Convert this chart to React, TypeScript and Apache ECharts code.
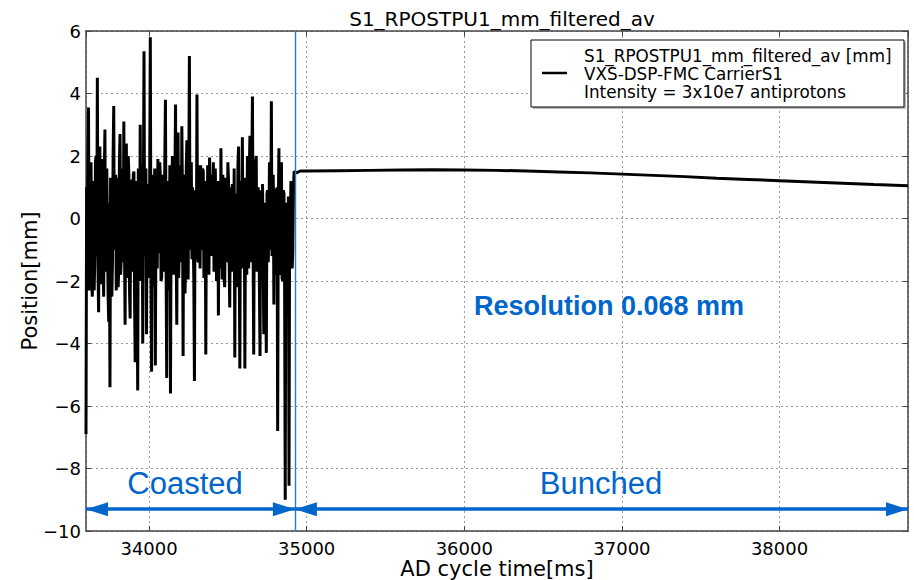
import React, { useEffect, useRef } from 'react';
import * as echarts from 'echarts';

const TITLE = 'S1_RPOSTPU1_mm_filtered_av';
const X_NAME = 'AD cycle time[ms]';
const Y_NAME = 'Position[mm]';
const X_MIN = 33600;
const X_MAX = 38815;
const Y_MIN = -10;
const Y_MAX = 6;
const Y_STEP = 2;

// Coasted beam: samples every COAST_STEP ms starting at COAST_START
const COAST_START = 33600;
const COAST_STEP = 4;
const coastValues = [
  -6.9, 1.0, -1.0, 1.9, 3.55, -2.3, -0.5, 1.3, 1.8, -1.9,
  -2.5, 0.8, 1.2, -2.3, -1.2, 1.8, 2.0, -1.2, 4.5, -1.6,
  -3.0, 1.4, 2.3, -2.1, -0.8, 1.7, 1.9, -1.3, -2.5, 1.3,
  2.85, -1.7, -1.0, 1.6, 1.6, -2.4, -3.3, 0.5, -5.4, 1.3,
  0.6, -2.5, -1.4, 2.0, 3.6, -1.0, 0.2, 1.4, -2.3, 1.2,
  1.3, -2.2, -1.6, 1.9, 2.7, -1.8, -1.2, 1.6, 0.9, -1.4,
  3.1, -0.7, -3.4, 1.3, 2.4, -1.9, -1.0, 2.0, 1.4, -2.3,
  -3.2, 0.9, 1.25, -1.7, -0.8, 1.4, 1.5, -2.5, -4.6, 1.2,
  0.7, -1.8, -5.5, 1.6, 0.3, -1.3, 3.0, -2.0, -1.3, 1.7,
  -4.0, 0.7, 5.35, -1.2, -1.2, 1.6, -3.7, 1.0, 1.1, -1.9,
  -0.6, 1.3, 5.8, -1.7, -4.9, 0.8, 1.4, -2.2, -0.4, 1.6,
  -4.7, 0.4, 0.8, -1.6, 1.9, -1.0, -1.1, 1.8, 1.3, -2.0,
  -1.9, 1.4, 0.5, -1.7, -0.9, 1.9, 3.8, -1.3, -5.1, 1.2,
  0.9, -2.3, -1.2, 1.7, -5.6, 0.3, -1.0, 2.0, 1.2, -1.8,
  -0.7, 1.2, 3.65, -0.8, -3.4, 1.3, 2.75, -1.9, -0.9, 1.7,
  0.8, -1.4, 2.95, 0.7, -4.4, 1.4, 0.4, -2.4, -1.5, 1.6,
  2.5, -0.5, -1.95, 1.3, 5.2, -1.0, 0.1, 1.8, -1.3, 1.0,
  1.0, -2.0, -5.2, 0.9, 0.6, -1.3, 3.97, -1.2, -1.4, 1.7,
  0.5, -1.6, 1.7, -0.9, -1.0, 1.6, 1.5, -1.9, -0.3, 1.2,
  -4.35, 0.5, -0.6, 1.7, 0.9, -1.8, 1.95, -0.8, -0.8, 1.4,
  -1.2, 1.0, 1.8, -1.7, -0.5, 1.6, 0.7, -2.0, -1.3, 1.2,
  -3.1, 0.7, 0.6, -1.6, 2.25, -0.9, -1.95, 1.4, 0.9, -1.9,
  -2.2, 1.3, 1.2, -1.4, -0.7, 1.8, 1.25, -1.3, -2.85, 1.0,
  0.3, -1.7, 1.1, -1.2, -1.4, 1.6, -4.45, 0.8, 0.8, -2.2,
  -1.0, 1.7, 2.3, -1.0, -4.8, 1.2, 0.4, -1.6, 2.6, -0.7,
  -1.1, 1.3, -4.8, 0.4, 0.6, -1.8, 2.0, -1.2, -1.6, 1.6,
  2.65, -1.4, -0.8, 1.7, 3.9, -0.8, -4.35, 0.7, -0.2, 1.8,
  2.0, -1.7, -1.2, 1.0, 0.5, -2.1, -4.4, 0.9, 0.0, -1.9,
  1.1, -1.3, -3.7, 0.5, 0.4, -2.3, -4.3, 0.8, 0.9, -1.4,
  -0.5, 1.8, 1.2, -1.0, 3.75, -1.2, -1.0, 1.4, -2.75, 0.8,
  0.95, -1.8, -1.0, 1.0, -6.8, 0.4, 2.25, -1.6, -1.8, 1.3,
  1.8, -1.9, -2.0, 0.9, 0.8, -2.1, -9.0, 0.5, 0.2, -1.3,
  -1.5, 0.7, -8.55, 0.1, -0.5, 1.2, 0.45, -1.6, -1.0, 0.8,
  1.5,
];

// Bunched beam
const bunchedTimes = [
  34935, 34960, 35000, 35200, 35400, 35600, 35800, 36000, 36200, 36400,
  36600, 36800, 37000, 37200, 37400, 37600, 37800, 38000, 38200, 38400,
  38600, 38815,
];
const bunchedValues = [
  1.46, 1.52, 1.52, 1.53, 1.54, 1.55, 1.56, 1.55, 1.54, 1.52,
  1.49, 1.46, 1.42, 1.38, 1.34, 1.29, 1.25, 1.21, 1.17, 1.13,
  1.09, 1.05,
];

const SPLIT_TIME = 34925;
const ARROW_LEVEL = -9.3;
const legendLines = [
  'S1_RPOSTPU1_mm_filtered_av [mm]',
  'VXS-DSP-FMC CarrierS1',
  'Intensity = 3x10e7 antiprotons',
];
const COASTED_LABEL = 'Coasted';
const BUNCHED_LABEL = 'Bunched';
const RESOLUTION_LABEL = 'Resolution 0.068 mm';

const MPL_FONT = 'DejaVu Sans';
const ANNOT_FONT = '"Liberation Sans", Arial, sans-serif';
const BLUE = '#0066cc';
const AXIS_COLOR = '#444';

export default function App() {
  const ref = useRef<HTMLDivElement>(null);

  useEffect(() => {
    if (!ref.current) return;
    const chart = echarts.init(ref.current, undefined, { renderer: 'svg' });

    const data: [number, number][] = [];
    coastValues.forEach((v, i) => data.push([COAST_START + i * COAST_STEP, v]));
    bunchedTimes.forEach((t, i) => data.push([t, bunchedValues[i]]));

    const axisLine = { show: true, onZero: false, lineStyle: { color: AXIS_COLOR, width: 1.5 } };
    const axisTick = { show: true, inside: true, length: 5, lineStyle: { color: AXIS_COLOR, width: 1 } };
    const splitLine = { show: true, lineStyle: { color: '#999', type: [2, 3], width: 1 } };

    const xCommon = { type: 'value', min: X_MIN, max: X_MAX, splitNumber: 5 };
    const yCommon = { type: 'value', min: Y_MIN, max: Y_MAX, interval: Y_STEP };

    chart.setOption({
      animation: false,
      backgroundColor: '#fff',
      title: {
        text: TITLE,
        left: 497,
        top: 4,
        textAlign: 'center',
        textStyle: { fontFamily: MPL_FONT, fontSize: 20, fontWeight: 'normal', color: '#000' },
      },
      grid: {
        left: 86,
        right: 6,
        top: 31,
        bottom: 49,
        containLabel: false,
        outerBoundsMode: 'none',
      },
      xAxis: [
        {
          ...xCommon,
          position: 'bottom',
          name: X_NAME,
          nameLocation: 'middle',
          nameGap: 27,
          nameMoveOverlap: false,
          nameTextStyle: { fontFamily: MPL_FONT, fontSize: 21, color: '#000' },
          axisLine,
          axisTick,
          splitLine,
          axisLabel: {
            fontFamily: MPL_FONT,
            fontSize: 18,
            color: '#000',
            margin: 8,
            showMinLabel: false,
            showMaxLabel: false,
            formatter: (v: number) => (v % 1000 === 0 ? String(v) : ''),
          },
        },
        {
          ...xCommon,
          position: 'top',
          axisLine,
          axisTick,
          splitLine: { show: false },
          axisLabel: { show: false },
        },
      ],
      yAxis: [
        {
          ...yCommon,
          position: 'left',
          name: Y_NAME,
          nameLocation: 'middle',
          nameGap: 46,
          nameMoveOverlap: false,
          nameTextStyle: { fontFamily: MPL_FONT, fontSize: 21, color: '#000' },
          axisLine,
          axisTick,
          splitLine,
          axisLabel: {
            fontFamily: MPL_FONT,
            fontSize: 18,
            color: '#000',
            margin: 5,
            formatter: (v: number) => String(v).replace('-', '\u2212'),
          },
        },
        {
          ...yCommon,
          position: 'right',
          axisLine,
          axisTick,
          splitLine: { show: false },
          axisLabel: { show: false },
        },
      ],
      series: [
        {
          type: 'line',
          name: legendLines[0],
          data,
          showSymbol: false,
          symbol: 'none',
          lineStyle: { color: '#000', width: 3 },
          itemStyle: { color: '#000' },
          z: 3,
          markLine: {
            silent: true,
            symbol: 'none',
            label: { show: false },
            lineStyle: { color: '#2f78d0', width: 1.4, type: 'solid' },
            emphasis: { disabled: true },
            data: [{ xAxis: SPLIT_TIME }],
          },
        },
        {
          type: 'line',
          data: [],
          z: 4,
          markLine: {
            silent: true,
            symbol: ['triangle', 'triangle'],
            symbolSize: [14, 22],
            symbolOffset: [[0, 11], [0, 11]],
            label: { show: false },
            lineStyle: { color: BLUE, width: 3.5, type: 'solid' },
            itemStyle: { color: BLUE },
            emphasis: { disabled: true },
            data: [
              [{ coord: [X_MIN, ARROW_LEVEL] }, { coord: [SPLIT_TIME, ARROW_LEVEL] }],
              [{ coord: [SPLIT_TIME, ARROW_LEVEL] }, { coord: [X_MAX, ARROW_LEVEL] }],
            ],
          },
        },
      ],
      graphic: [
        {
          type: 'rect',
          shape: { x: 533, y: 42, width: 373, height: 67 },
          style: { fill: '#bbb' },
          z: 10,
        },
        {
          type: 'rect',
          shape: { x: 531, y: 40, width: 373, height: 67 },
          style: { fill: '#fff', stroke: '#000', lineWidth: 1 },
          z: 11,
        },
        {
          type: 'line',
          shape: { x1: 542, y1: 73, x2: 567, y2: 73 },
          style: { stroke: '#000', lineWidth: 2.5 },
          z: 12,
        },
        ...legendLines.map((t, i) => ({
          type: 'text',
          x: 584,
          y: 55.5 + i * 18.3,
          z: 12,
          style: {
            text: t,
            fontFamily: MPL_FONT,
            fontSize: 16.8,
            fill: '#000',
            textAlign: 'left',
            textVerticalAlign: 'middle',
          },
        })),
        {
          type: 'text',
          x: 185,
          y: 483,
          z: 12,
          style: {
            text: COASTED_LABEL,
            fontFamily: ANNOT_FONT,
            fontSize: 31,
            fill: BLUE,
            textAlign: 'center',
            textVerticalAlign: 'middle',
          },
        },
        {
          type: 'text',
          x: 601,
          y: 483,
          z: 12,
          style: {
            text: BUNCHED_LABEL,
            fontFamily: ANNOT_FONT,
            fontSize: 31,
            fill: BLUE,
            textAlign: 'center',
            textVerticalAlign: 'middle',
          },
        },
        {
          type: 'text',
          x: 609,
          y: 306,
          z: 12,
          style: {
            text: RESOLUTION_LABEL,
            fontFamily: ANNOT_FONT,
            fontSize: 27,
            fontWeight: 'bold',
            fill: BLUE,
            textAlign: 'center',
            textVerticalAlign: 'middle',
          },
        },
      ],
    });

    return () => chart.dispose();
  }, []);

  return (
    <div
      ref={ref}
      style={{ position: 'fixed', left: 0, top: 0, width: 914, height: 580, background: '#fff' }}
    />
  );
}
